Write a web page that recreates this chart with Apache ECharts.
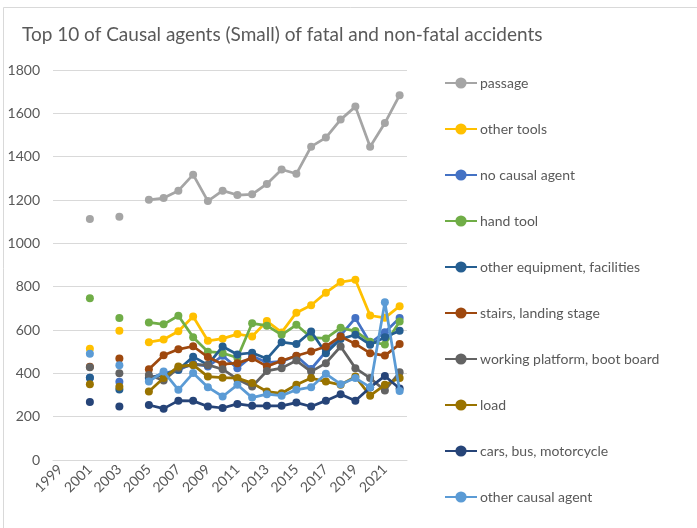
<!DOCTYPE html>
<html>
<head>
<meta charset="utf-8">
<script src="https://cdn.jsdelivr.net/npm/echarts@6/dist/echarts.min.js"></script>
<style>html,body{margin:0;padding:0;background:#fff}#c{width:697px;height:528px}</style>
</head>
<body>
<div id="c"></div>
<script>
const years = ['1999','2000','2001','2002','2003','2004','2005','2006','2007','2008','2009','2010','2011','2012','2013','2014','2015','2016','2017','2018','2019','2020','2021','2022'];
const passage        = [null,null,1112,null,1123,null,1201,1209,1243,1317,1195,1243,1223,1226,1274,1341,1321,1446,1488,1571,1631,1446,1555,1684];
const otherTools     = [null,null,513,null,597,null,544,556,594,662,550,560,581,570,641,589,680,714,772,821,832,667,656,710];
const noCausalAgent  = [null,null,380,null,361,null,375,400,415,445,432,481,424,480,450,455,480,420,500,575,655,540,590,655];
const handTool       = [null,null,746,null,655,null,635,626,666,567,500,494,472,631,620,578,624,565,561,610,595,546,533,639];
const otherEquipment = [null,null,380,null,325,null,380,393,416,477,439,524,487,495,467,544,535,593,493,558,578,532,566,597];
const stairs         = [null,null,430,null,469,null,419,483,511,525,475,442,447,470,432,458,481,501,524,570,536,493,482,535];
const workingPlatform= [null,null,428,null,400,null,392,367,425,439,439,419,373,339,411,424,459,408,447,524,424,378,321,405];
const load           = [null,null,350,null,338,null,316,378,432,439,385,380,378,355,316,308,347,378,362,347,385,297,347,378];
const cars           = [null,null,268,null,247,null,254,237,274,273,247,240,259,250,250,250,265,247,274,304,273,335,388,330];
const otherCausal    = [null,null,490,null,437,null,362,408,324,401,336,293,347,288,304,297,324,336,398,350,378,336,728,318];

const names  = ['passage','other tools','no causal agent','hand tool','other equipment, facilities','stairs, landing stage','working platform, boot board','load','cars, bus, motorcycle','other causal agent'];
const data   = [passage,otherTools,noCausalAgent,handTool,otherEquipment,stairs,workingPlatform,load,cars,otherCausal];
const colors = ['#A5A5A5','#FFC000','#4472C4','#70AD47','#255E91','#9E480E','#636363','#997300','#264478','#5B9BD5'];

const font = 'Lato, "Open Sans", sans-serif';
const chart = echarts.init(document.getElementById('c'));
chart.setOption({
  animation: false,
  backgroundColor: '#fff',
  title: {
    text: 'Top 10 of Causal agents (Small) of fatal and non-fatal accidents',
    left: 17, top: 20,
    textStyle: {fontFamily: font, fontSize: 19, fontWeight: 'normal', color: '#595959'}
  },
  graphic: [{type:'rect', shape:{x:3.5,y:7.5,width:700,height:530}, style:{fill:'none', stroke:'#D9D9D9', lineWidth:1}, silent:true}],
  legend: {
    orient: 'vertical', left: 439, top: 71,
    itemWidth: 32, itemHeight: 14, itemGap: 32,
    textStyle: {fontFamily: font, fontSize: 14, color: '#595959', padding: [0,0,0,-2]},
    data: names
  },
  grid: {left: 53, right: 290, top: 70, bottom: 68},
  xAxis: {
    type: 'category', data: years, boundaryGap: true,
    axisLine: {lineStyle: {color: '#D9D9D9'}},
    axisTick: {show: false},
    axisLabel: {interval: 1, rotate: 45, color: '#595959', fontFamily: font, fontSize: 14, margin: 7}
  },
  yAxis: {
    type: 'value', min: 0, max: 1800, interval: 200,
    axisLine: {show: false}, axisTick: {show: false},
    splitLine: {lineStyle: {color: '#D9D9D9'}},
    axisLabel: {color: '#595959', fontFamily: font, fontSize: 14, margin: 13, formatter: v => String(v)}
  },
  series: names.map((n, i) => ({
    name: n, type: 'line', data: data[i],
    connectNulls: false, symbol: 'circle', symbolSize: 8, showSymbol: true,
    lineStyle: {width: 2.75, color: colors[i]},
    itemStyle: {color: colors[i]},
    z: 2 + i
  }))
});
</script>
</body>
</html>
